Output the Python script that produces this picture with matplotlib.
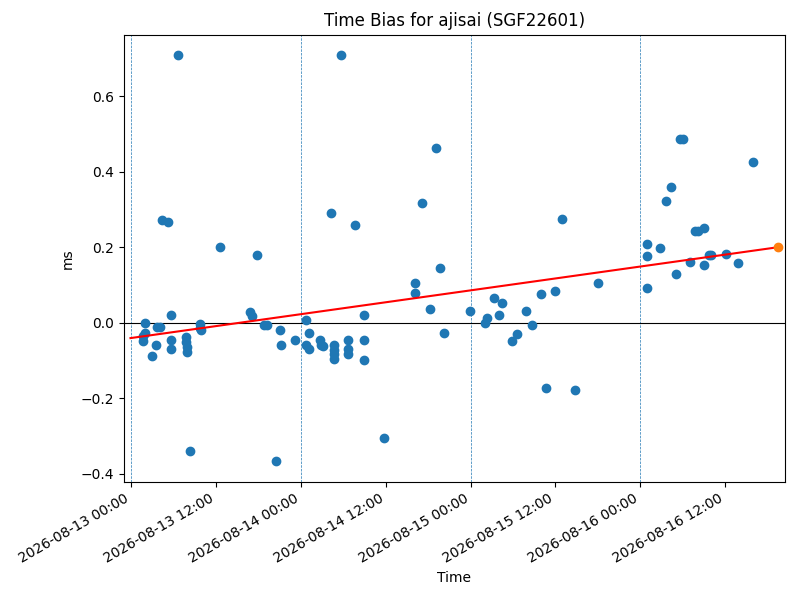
import matplotlib
matplotlib.use("Agg")
import matplotlib.pyplot as plt
import matplotlib.dates as mdates
import pandas as pd

times = [
    "2026-08-13 01:39", "2026-08-13 01:42", "2026-08-13 01:57", "2026-08-13 01:59",
    "2026-08-13 02:58", "2026-08-13 03:32", "2026-08-13 03:38", "2026-08-13 04:00",
    "2026-08-13 04:20", "2026-08-13 05:11", "2026-08-13 05:36", "2026-08-13 05:36",
    "2026-08-13 05:36", "2026-08-13 06:33", "2026-08-13 07:45", "2026-08-13 07:45",
    "2026-08-13 07:48", "2026-08-13 07:51", "2026-08-13 08:21", "2026-08-13 09:45",
    "2026-08-13 09:45", "2026-08-13 09:48", "2026-08-13 12:36", "2026-08-13 16:48",
    "2026-08-13 17:03", "2026-08-13 17:48", "2026-08-13 18:48", "2026-08-13 19:12",
    "2026-08-13 20:24", "2026-08-13 21:00", "2026-08-13 21:06", "2026-08-13 23:12",
    "2026-08-14 00:45", "2026-08-14 00:42", "2026-08-14 01:06", "2026-08-14 01:12",
    "2026-08-14 02:42", "2026-08-14 02:48", "2026-08-14 03:06", "2026-08-14 04:18",
    "2026-08-14 04:42", "2026-08-14 04:42", "2026-08-14 04:42", "2026-08-14 04:42",
    "2026-08-14 05:36", "2026-08-14 06:42", "2026-08-14 06:42", "2026-08-14 06:42",
    "2026-08-14 07:36", "2026-08-14 08:54", "2026-08-14 08:54", "2026-08-14 08:54",
    "2026-08-14 11:42", "2026-08-14 16:12", "2026-08-14 16:12", "2026-08-14 17:06",
    "2026-08-14 18:12", "2026-08-14 19:06", "2026-08-14 19:36", "2026-08-14 20:12",
    "2026-08-14 23:54", "2026-08-15 02:00", "2026-08-15 02:18", "2026-08-15 03:18",
    "2026-08-15 04:00", "2026-08-15 04:30", "2026-08-15 05:54", "2026-08-15 06:36",
    "2026-08-15 07:54", "2026-08-15 08:42", "2026-08-15 10:00", "2026-08-15 10:42",
    "2026-08-15 12:00", "2026-08-15 12:54", "2026-08-15 14:48", "2026-08-15 18:06",
    "2026-08-16 01:00", "2026-08-16 01:00", "2026-08-16 01:00", "2026-08-16 02:48",
    "2026-08-16 03:42", "2026-08-16 04:24", "2026-08-16 05:00", "2026-08-16 05:42",
    "2026-08-16 06:00", "2026-08-16 07:06", "2026-08-16 07:48", "2026-08-16 08:12",
    "2026-08-16 09:06", "2026-08-16 09:06", "2026-08-16 09:48", "2026-08-16 10:00",
    "2026-08-16 12:06", "2026-08-16 13:54", "2026-08-16 16:00",
]
bias_ms = [
    -0.035, -0.050, -0.027, 0.000,
    -0.088, -0.059, -0.012, -0.012,
    0.272, 0.266, 0.019, -0.046,
    -0.070, 0.709, -0.037, -0.052,
    -0.064, -0.078, -0.339, -0.004,
    -0.015, -0.020, 0.200, 0.027,
    0.017, 0.178, -0.005, -0.007,
    -0.368, -0.020, -0.059, -0.046,
    0.008, -0.060, -0.070, -0.027,
    -0.046, -0.060, -0.062, 0.291,
    -0.059, -0.073, -0.084, -0.097,
    0.709, -0.046, -0.070, -0.082,
    0.259, 0.021, -0.046, -0.099,
    -0.307, 0.104, 0.079, 0.317,
    0.036, 0.464, 0.144, -0.027,
    0.032, -0.001, 0.012, 0.064,
    0.021, 0.052, -0.050, -0.030,
    0.032, -0.005, 0.077, -0.174,
    0.083, 0.275, -0.179, 0.104,
    0.208, 0.176, 0.093, 0.199,
    0.322, 0.360, 0.128, 0.487,
    0.487, 0.160, 0.244, 0.244,
    0.251, 0.154, 0.180, 0.180,
    0.181, 0.157, 0.426,
]
fit_times = ["2026-08-12 23:52", "2026-08-16 19:33"]
fit_values = [-0.041, 0.200]
midnights = ["2026-08-13", "2026-08-14", "2026-08-15", "2026-08-16"]
title = "Time Bias for ajisai (SGF22601)"

t = pd.to_datetime(times)
ft = pd.to_datetime(fit_times)
mn = pd.to_datetime(midnights)

fig, ax = plt.subplots(figsize=(8, 6), dpi=100)
fig.subplots_adjust(left=0.155, right=0.981, top=0.942, bottom=0.197)

for d in mn:
    ax.axvline(d, color="tab:blue", linestyle="--", linewidth=0.5)
ax.axhline(0, color="black", linewidth=0.8)

ax.plot(t, bias_ms, "o", color="tab:blue", linestyle="none")
ax.plot(ft, fit_values, color="red", linewidth=1.5)
ax.plot(ft[-1:], fit_values[-1:], "o", color="tab:orange", linestyle="none")

ax.margins(x=0.01)
ax.xaxis.set_major_locator(mdates.HourLocator(byhour=[0, 12]))
ax.xaxis.set_major_formatter(mdates.DateFormatter("%Y-%m-%d %H:%M"))
for lbl in ax.get_xticklabels():
    lbl.set_rotation(30)
    lbl.set_ha("right")

ax.set_title(title)
ax.set_xlabel("Time")
ax.set_ylabel("ms")

fig.savefig("out.png", dpi=100)
